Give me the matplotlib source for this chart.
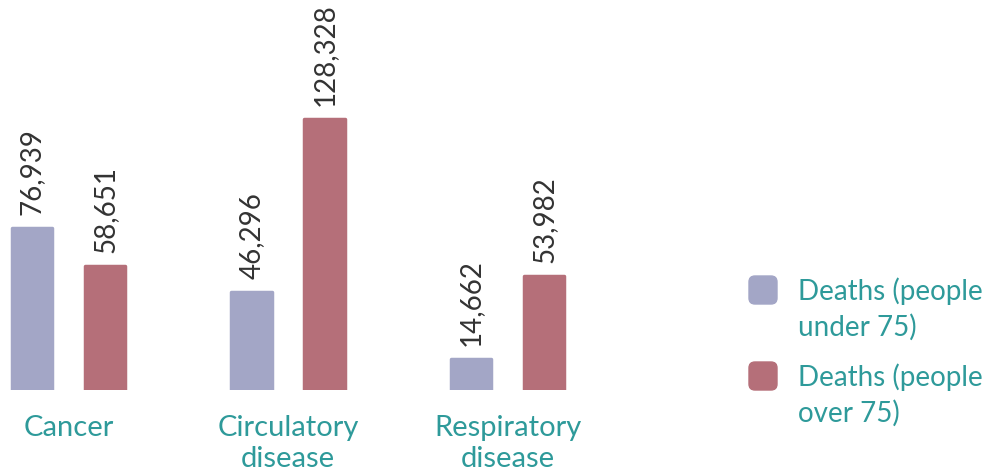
import matplotlib
matplotlib.use("Agg")
import matplotlib.pyplot as plt
from matplotlib.patches import FancyBboxPatch
import numpy as np

# chart data
categories = ["Cancer", "Circulatory\ndisease", "Respiratory\ndisease"]
under_75 = [76939, 46296, 14662]
over_75 = [58651, 128328, 53982]
series_names = ["Deaths (people\nunder 75)", "Deaths (people\nover 75)"]

BLUE = "#a3a6c6"
RED = "#b56f79"
TEAL = "#2e9a9a"
GREY = "#333333"

plt.rcParams["font.family"] = ["Lato", "DejaVu Sans"]

W, H = 997, 477
fig = plt.figure(figsize=(W / 100, H / 100), dpi=100)
ax = fig.add_axes([0, 86 / H, 1, 1 - 86 / H])

x = np.arange(len(categories))
off, width = 0.167, 0.185
b1 = ax.bar(x - off, under_75, width, color=BLUE, edgecolor=BLUE,
            linewidth=2.5, joinstyle="round")
b2 = ax.bar(x + off, over_75, width, color=RED, edgecolor=RED,
            linewidth=2.5, joinstyle="round")

for bars, vals in ((b1, under_75), (b2, over_75)):
    for rect, v in zip(bars, vals):
        ax.annotate(f"{v:,}", (rect.get_x() + rect.get_width() / 2, rect.get_height()),
                    xytext=(0, 10), textcoords="offset points", rotation=90,
                    ha="center", va="bottom", fontsize=20, color=GREY)

ax.set_xlim(-68.5 / 219.5, (W - 68.5) / 219.5)
ax.set_ylim(0, 391 / 271 * 128328)
ax.set_xticks(x)
ax.set_xticklabels(categories, fontsize=21, color=TEAL, linespacing=1.25)
ax.tick_params(axis="x", length=0, pad=17)
ax.set_yticks([])
for s in ax.spines.values():
    s.set_visible(False)

# legend
for i, (name, col) in enumerate(zip(series_names, [BLUE, RED])):
    top = 277 + i * 86
    fig.patches.append(FancyBboxPatch((749 / W, 1 - (top + 28) / H), 28 / W, 28 / H,
                                      boxstyle="round,pad=0,rounding_size=0.006",
                                      transform=fig.transFigure, color=col,
                                      mutation_aspect=W / H))
    fig.text(798 / W, 1 - top / H, name, fontsize=20, color=TEAL,
             ha="left", va="top", linespacing=1.4)

fig.savefig("out.png", dpi=100)
